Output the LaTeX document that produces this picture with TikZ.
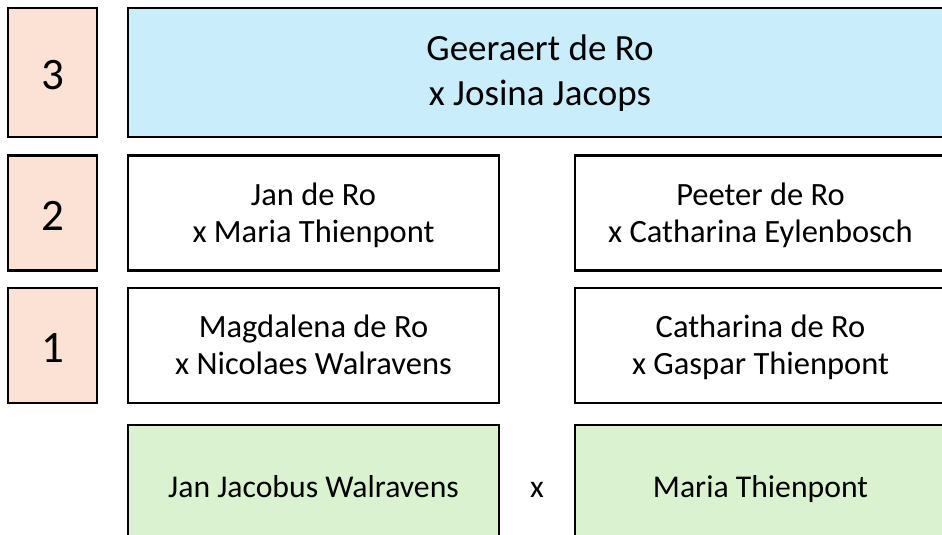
\documentclass[tikz,border=0pt]{standalone}
\usepackage{fontspec}
\setmainfont{Carlito}
\definecolor{gensalmon}{HTML}{FBE2D5}
\definecolor{topblue}{HTML}{CAEDFB}
\definecolor{basegreen}{HTML}{DAF2D0}
\newcommand{\famstrut}{\rule[-8pt]{0pt}{37pt}}
\newcommand{\pairlines}[2]{\famstrut #1\\\famstrut #2}
\begin{document}
\begin{tikzpicture}[
  x=1pt, y=-1pt,
  gen/.style={rectangle, draw, line width=2.2pt, fill=gensalmon, minimum width=89pt, minimum height=115pt, inner sep=0pt, text height=34pt, text depth=0pt, font=\fontsize{45}{54}\selectfont},
  couple/.style={rectangle, draw, line width=2.2pt, minimum width=371pt, minimum height=115pt, inner sep=0pt, align=center, font=\fontsize{32.5}{37}\selectfont},
  base/.style={couple, fill=basegreen, minimum height=124pt, font=\fontsize{31.7}{37}\selectfont}
]
\useasboundingbox (0,0) rectangle (942,535);
\clip (0,0) rectangle (942,535);

% Generation numbers
\node (gen-3) at (52.5,72.5) [gen, minimum height=129pt] {3};
\node (gen-2) at (52.5,213) [gen] {2};
\node (gen-1) at (52.5,345.5) [gen] {1};

% Oldest couple
\node (geeraert) at (540,72.5) [couple, fill=topblue, minimum width=824pt, minimum height=129pt, font=\fontsize{37}{45}\selectfont] {\pairlines{Geeraert de Ro}{x Josina Jacops}};

% Second generation
\node (jan-de-ro) at (313.5,213) [couple] {\pairlines{Jan de Ro}{x Maria Thienpont}};
\node (peeter) at (760.5,213) [couple] {\pairlines{Peeter de Ro}{x Catharina Eylenbosch}};

% First generation
\node (magdalena) at (313.5,345.5) [couple] {\pairlines{Magdalena de Ro}{x Nicolaes Walravens}};
\node (catharina) at (760.5,345.5) [couple] {\pairlines{Catharina de Ro}{x Gaspar Thienpont}};

% Bride and groom
\node (jan-jacobus) at (313.5,487) [base] {\famstrut Jan Jacobus Walravens};
\node (maria) at (760.5,487) [base] {\famstrut Maria Thienpont};
\node (marriage) at (537,487) [font=\fontsize{31.7}{37}\selectfont] {\famstrut x};

\end{tikzpicture}
\end{document}
